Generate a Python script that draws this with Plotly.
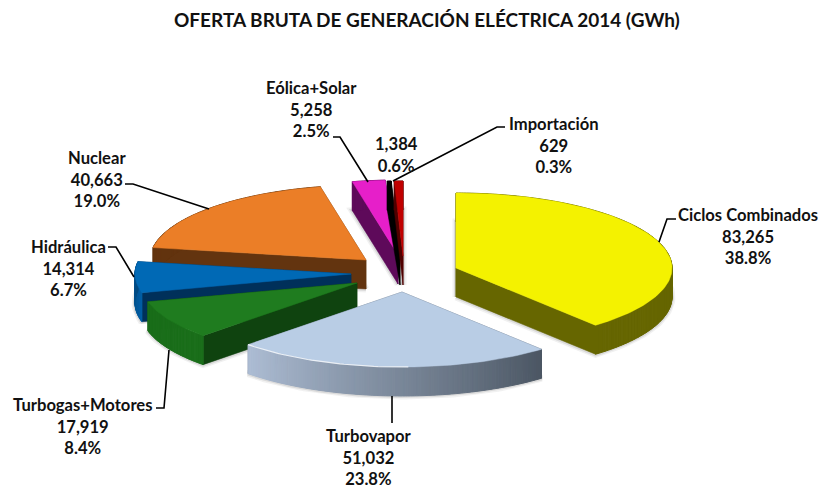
import math
import plotly.graph_objects as go

# ---- data ----
names = ["Ciclos Combinados", "Turbovapor", "Turbogas+Motores", "Hidráulica",
         "Nuclear", "Eólica+Solar", "Importación", ""]
values = [83265, 51032, 17919, 14314, 40663, 5258, 629, 1384]
percents = ["38.8", "23.8", "8.4", "6.7", "19.0", "2.5", "0.3", "0.6"]
title = "OFERTA BRUTA DE GENERACIÓN ELÉCTRICA 2014 (GWh)"

# ---- style ----
top_colors = ["#F4F200", "#B9CDE5", "#1F7C1F", "#0069B5", "#EB7E27", "#E61FC9", "#000000", "#C00000"]
cut_colors = ["#666600", "#56606E", "#0F430F", "#00305A", "#63340F", "#5E0A5A", "#000000", "#500000"]
rim_from = ["#666600", "#ADBDD4", "#1A6E1A", "#005FA6", "#63340F", "#5E0A5A", "#000000", "#500000"]
rim_to = ["#666600", "#4B5663", "#1A6E1A", "#004A80", "#63340F", "#5E0A5A", "#000000", "#500000"]
apex = [(456, 268), (402, 292), (357, 283), (351, 274), (366, 260), (398, 255), (400, 256), (403, 256)]
draw_order = [4, 3, 2, 1, 5, 6, 7, 0]
RX, RY, DEPTH = 216, 75, 29
label_pos = [(748, 236), (369, 457), (82, 426), (68, 268), (97, 179), (311, 109), (554, 145), (396, 155)]
leaders = [
    [(659, 242), (667, 219), (676, 219)],
    [(392, 396), (392, 423)],
    [(169, 350), (164, 408), (156, 408)],
    [(134, 277), (116, 247), (108, 247)],
    [(209, 209), (133, 184), (125, 184)],
    [(368, 182), (340, 137), (333, 137)],
    [(393, 181), (497, 127), (505, 127)],
]

total = sum(values)
fig = go.Figure()


def hexmix(a, b, t):
    ca = [int(a[i:i + 2], 16) for i in (1, 3, 5)]
    cb = [int(b[i:i + 2], 16) for i in (1, 3, 5)]
    return "rgb(%d,%d,%d)" % tuple(round(p + (q - p) * t) for p, q in zip(ca, cb))


def rim_point(c, ang, dy=0):
    return c[0] + RX * math.sin(ang), c[1] - RY * math.cos(ang) + dy


def poly(pts, color, line=None, width=0, fill=True):
    xs = [p[0] for p in pts]
    ys = [p[1] for p in pts]
    fig.add_trace(go.Scatter(
        x=xs, y=ys, mode="lines", fill="toself" if fill else "none",
        fillcolor=color, line=dict(color=line or color, width=width),
        hoverinfo="skip", showlegend=False))


# slice angular spans from the values
spans, acc = [], 0.0
for v in values:
    a0 = acc / total * 2 * math.pi
    acc += v
    spans.append((a0, acc / total * 2 * math.pi))


def arc(c, a0, a1, dy=0):
    n = max(3, int((a1 - a0) / 0.02))
    return [rim_point(c, a0 + (a1 - a0) * k / n, dy) for k in range(n + 1)]


# soft ground shadows under the slices
for i in draw_order:
    a0, a1 = spans[i]
    c = apex[i]
    pts = [(c[0], c[1] + DEPTH)] + arc(c, a0, a1, DEPTH) + [(c[0], c[1] + DEPTH)]
    for w, alpha in ((7, 0.07), (4, 0.12)):
        poly(pts, "rgba(60,60,60,%.2f)" % alpha, width=w)

for i in draw_order:
    a0, a1 = spans[i]
    c = apex[i]
    low = (c[0], c[1] + DEPTH)
    # cut walls
    for a in (a1, a0):
        p = rim_point(c, a)
        poly([c, p, (p[0], p[1] + DEPTH), low, c], cut_colors[i], width=0.5)
    # outer rim as thin vertical strips (gives the gradient)
    steps = max(3, int((a1 - a0) / 0.012))
    for s in range(steps):
        b0 = a0 + (a1 - a0) * s / steps
        b1 = a0 + (a1 - a0) * (s + 1) / steps
        t = 1 - (s + 0.5) / steps if i == 1 else (s + 0.5) / steps
        col = hexmix(rim_from[i], rim_to[i], t)
        p0, p1 = rim_point(c, b0), rim_point(c, b1)
        poly([p0, p1, (p1[0], p1[1] + DEPTH), (p0[0], p0[1] + DEPTH), p0], col, width=1)
    # top face
    poly([c] + arc(c, a0, a1) + [c], top_colors[i], width=0.5)

# bevel highlight on the Turbovapor rim
a0, a1 = spans[1]
poly(arc(apex[1], a0 + (a1 - a0) * 0.45, a1), "rgba(255,255,255,0.75)", width=1.2, fill=False)

# leader lines
for seg in leaders:
    fig.add_trace(go.Scatter(
        x=[p[0] for p in seg], y=[p[1] for p in seg], mode="lines",
        line=dict(color="#000000", width=1.6), hoverinfo="skip", showlegend=False))

# labels
for i, (x, y) in enumerate(label_pos):
    rows = [names[i]] if names[i] else []
    rows += [f"{values[i]:,}", percents[i] + "%"]
    fig.add_annotation(
        x=x, y=y, xref="x", yref="y", showarrow=False, align="center",
        text="<br>".join(f"<b>{r}</b>" for r in rows),
        font=dict(family="Lato", size=16.6, color="#111111"))

fig.add_annotation(
    x=427, y=19, xref="x", yref="y", showarrow=False,
    text=f"<b>{title}</b>", font=dict(family="Lato", size=19, color="#111111"))

fig.update_layout(
    width=821, height=490, margin=dict(l=0, r=0, t=0, b=0),
    paper_bgcolor="white", plot_bgcolor="white", showlegend=False,
    xaxis=dict(range=[0, 821], visible=False, fixedrange=True),
    yaxis=dict(range=[490, 0], visible=False, fixedrange=True),
)

fig.write_html("out.html", config={"displayModeBar": False},
               post_script="document.body.style.margin='0';document.documentElement.style.overflow='hidden';")
